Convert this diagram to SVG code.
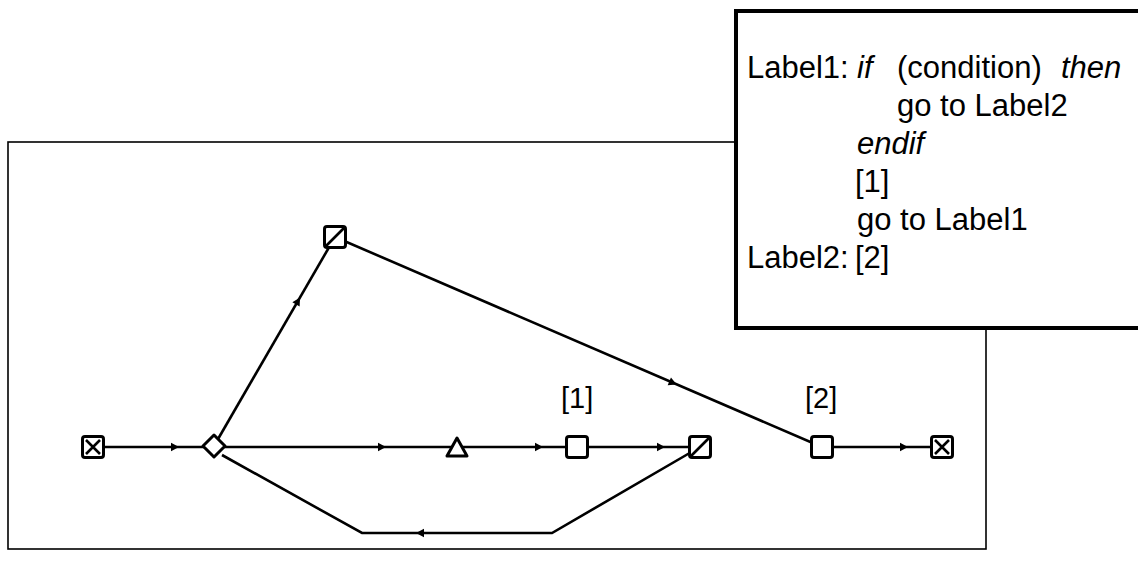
<svg xmlns="http://www.w3.org/2000/svg" width="1138" height="579" viewBox="0 0 1138 579">
<style>
.ln{fill:none;stroke:#000;stroke-width:2.6;stroke-linejoin:miter}
.nd{fill:#fff;stroke:#000;stroke-width:3;stroke-linejoin:round}
.t{font-family:"Liberation Sans",Arial,sans-serif;font-size:31px;fill:#000}
.i{font-style:italic}
.lb{font-family:"Liberation Sans",Arial,sans-serif;font-size:29px;fill:#000}
</style>
<defs>
<polygon id="ah" points="4,0 -4,-4.2 -4,4.2" fill="#000"/>
<rect id="sq" x="-10.5" y="-10.5" width="21" height="21" rx="2.5"/>
</defs>
<rect id="frame" x="8" y="142" width="978" height="407" fill="#fff" stroke="#000" stroke-width="1.6"/>
<g id="connectors">
<line class="ln" x1="93" y1="447" x2="214" y2="447"/>
<line class="ln" x1="214" y1="447" x2="700" y2="447"/>
<line class="ln" x1="822" y1="447" x2="942" y2="447"/>
<line class="ln" x1="214" y1="446" x2="335" y2="237"/>
<line class="ln" x1="335" y1="237" x2="822" y2="447"/>
<polyline class="ln" points="222,455 362,533 552,533 700,447"/>
<use href="#ah" transform="translate(175,447)"/>
<use href="#ah" transform="translate(382,447)"/>
<use href="#ah" transform="translate(539,447)"/>
<use href="#ah" transform="translate(661,447)"/>
<use href="#ah" transform="translate(904,447)"/>
<use href="#ah" transform="translate(298,301) rotate(-59.9)"/>
<use href="#ah" transform="translate(673,383) rotate(23.3)"/>
<use href="#ah" transform="translate(420,533) rotate(180)"/>
</g>
<g id="start">
<use href="#sq" class="nd" transform="translate(93,447)"/>
<path class="ln" d="M86,440 L100,454 M100,440 L86,454"/>
</g>
<g id="decision">
<polygon class="nd" points="214,435 225,446 214,457 203,446"/>
</g>
<g id="top">
<use href="#sq" class="nd" transform="translate(335,237)"/>
<line class="ln" x1="325" y1="247" x2="345" y2="227"/>
</g>
<g id="triangle">
<polygon class="nd" points="457,438 467,456 447,456"/>
</g>
<g id="n1">
<use href="#sq" class="nd" transform="translate(577,447)"/>
<text class="lb" x="561" y="408">[1]</text>
</g>
<g id="merge">
<use href="#sq" class="nd" transform="translate(700,447)"/>
<line class="ln" x1="690" y1="457" x2="710" y2="437"/>
</g>
<g id="n2">
<use href="#sq" class="nd" transform="translate(822,447)"/>
<text class="lb" x="805" y="408">[2]</text>
</g>
<g id="end">
<use href="#sq" class="nd" transform="translate(942,447)"/>
<path class="ln" d="M935,440 L949,454 M949,440 L935,454"/>
</g>
<g id="code">
<rect x="736" y="11" width="420" height="317" fill="#fff" stroke="#000" stroke-width="4"/>
<text class="t" x="747" y="78">Label1:</text>
<text class="t i" x="857" y="78">if</text>
<text class="t" x="897" y="78">(condition)</text>
<text class="t i" x="1061" y="78">then</text>
<text class="t" x="897" y="116">go to Label2</text>
<text class="t i" x="857" y="154">endif</text>
<text class="t" x="855" y="192">[1]</text>
<text class="t" x="857" y="230">go to Label1</text>
<text class="t" x="747" y="268">Label2:</text>
<text class="t" x="855" y="268">[2]</text>
</g>
</svg>
